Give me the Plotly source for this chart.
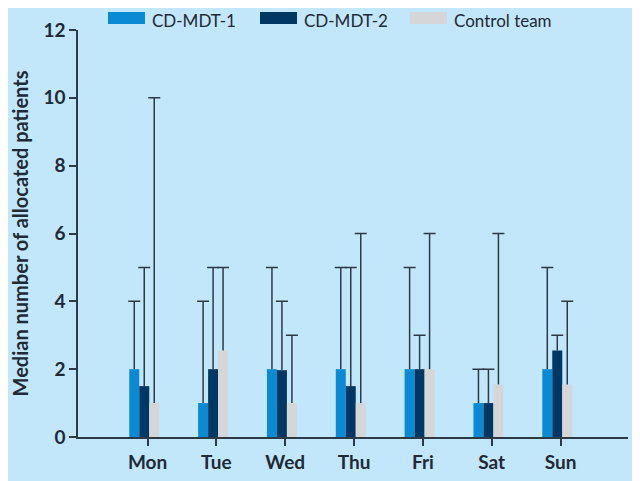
import plotly.graph_objects as go

days = ["Mon", "Tue", "Wed", "Thu", "Fri", "Sat", "Sun"]
series_names = ["CD-MDT-1", "CD-MDT-2", "Control team"]
cd1_median = [2, 1, 2, 2, 2, 1, 2]
cd1_upper = [4, 4, 5, 5, 5, 2, 5]
cd2_median = [1.5, 2, 1.97, 1.5, 2, 1, 2.55]
cd2_upper = [5, 5, 4, 5, 3, 2, 3]
ctl_median = [1, 2.55, 1, 1, 2, 1.55, 1.55]
ctl_upper = [10, 5, 3, 6, 6, 6, 4]

medians = [cd1_median, cd2_median, ctl_median]
uppers = [cd1_upper, cd2_upper, ctl_upper]
colors = ["#0a8ad3", "#003763", "#d5d6d8"]
offsets = [-0.265, -0.12, 0.025]
bar_w = 0.145
err_color = "#2c3a48"
text_color = "#1e2a36"

W, H = 640, 481
M = dict(l=70, r=20, t=22, b=52)
PW, PH = W - M["l"] - M["r"], H - M["t"] - M["b"]


def px_x(x):
    return (x - M["l"]) / PW


def px_y(y):
    return (H - M["b"] - y) / PH


fig = go.Figure()
for name, med, up, col, off in zip(series_names, medians, uppers, colors, offsets):
    fig.add_trace(go.Bar(
        x=days, y=med, name=name, showlegend=False,
        marker=dict(color=col, line=dict(width=0)),
        width=bar_w, offset=off,
        error_y=dict(type="data", symmetric=False,
                     array=[u - m for u, m in zip(up, med)],
                     arrayminus=[0] * len(med),
                     color=err_color, thickness=1.5, width=0),
    ))
for med, up, off in zip(medians, uppers, offsets):
    fig.add_trace(go.Bar(
        x=days, y=up, showlegend=False, hoverinfo="skip",
        marker=dict(color="rgba(0,0,0,0)", line=dict(width=0)),
        width=bar_w, offset=off,
        error_y=dict(type="data", array=[0] * len(up), color=err_color,
                     thickness=1.5, width=6),
    ))

# custom legend with wide swatches
legend_swatch_x = [100, 252, 402]
legend_swatch_w = 37
legend_swatch_cy = 10
legend_text_cy = 12.5
for name, col, sx in zip(series_names, colors, legend_swatch_x):
    fig.add_shape(type="rect", xref="paper", yref="paper",
                  x0=px_x(sx), x1=px_x(sx + legend_swatch_w),
                  y0=px_y(legend_swatch_cy + 6), y1=px_y(legend_swatch_cy - 6),
                  fillcolor=col, line=dict(width=0), layer="above")
    fig.add_annotation(text=name, xref="paper", yref="paper",
                       x=px_x(sx + legend_swatch_w + 6), y=px_y(legend_text_cy),
                       xanchor="left", yanchor="middle", showarrow=False,
                       borderpad=0,
                       font=dict(size=17, color=text_color))

fig.update_layout(
    width=W, height=H,
    barmode="overlay", showlegend=False,
    paper_bgcolor="#c2e6fa", plot_bgcolor="#c2e6fa",
    margin=M,
    font=dict(family="Lato, 'Open Sans', sans-serif", color=text_color),
    xaxis=dict(range=[-1.01, 6.98], showline=True, linecolor=err_color, linewidth=1.5,
               ticks="outside", ticklen=7, tickcolor=err_color, tickwidth=1.5,
               showgrid=False, zeroline=False, automargin=False,
               tickfont=dict(size=19, weight="bold", color=text_color)),
    yaxis=dict(range=[0, 12], tickvals=[0, 2, 4, 6, 8, 10, 12], showline=True,
               linecolor=err_color, linewidth=1.5, ticks="outside", ticklen=7,
               tickcolor=err_color, tickwidth=1.5, showgrid=False, zeroline=False,
               automargin=False,
               tickfont=dict(size=19, weight="bold", color=text_color),
               title=dict(text="Median number of allocated patients",
                          font=dict(size=20, weight="bold", color=text_color),
                          standoff=12)),
)

fig.write_html("out.html")
